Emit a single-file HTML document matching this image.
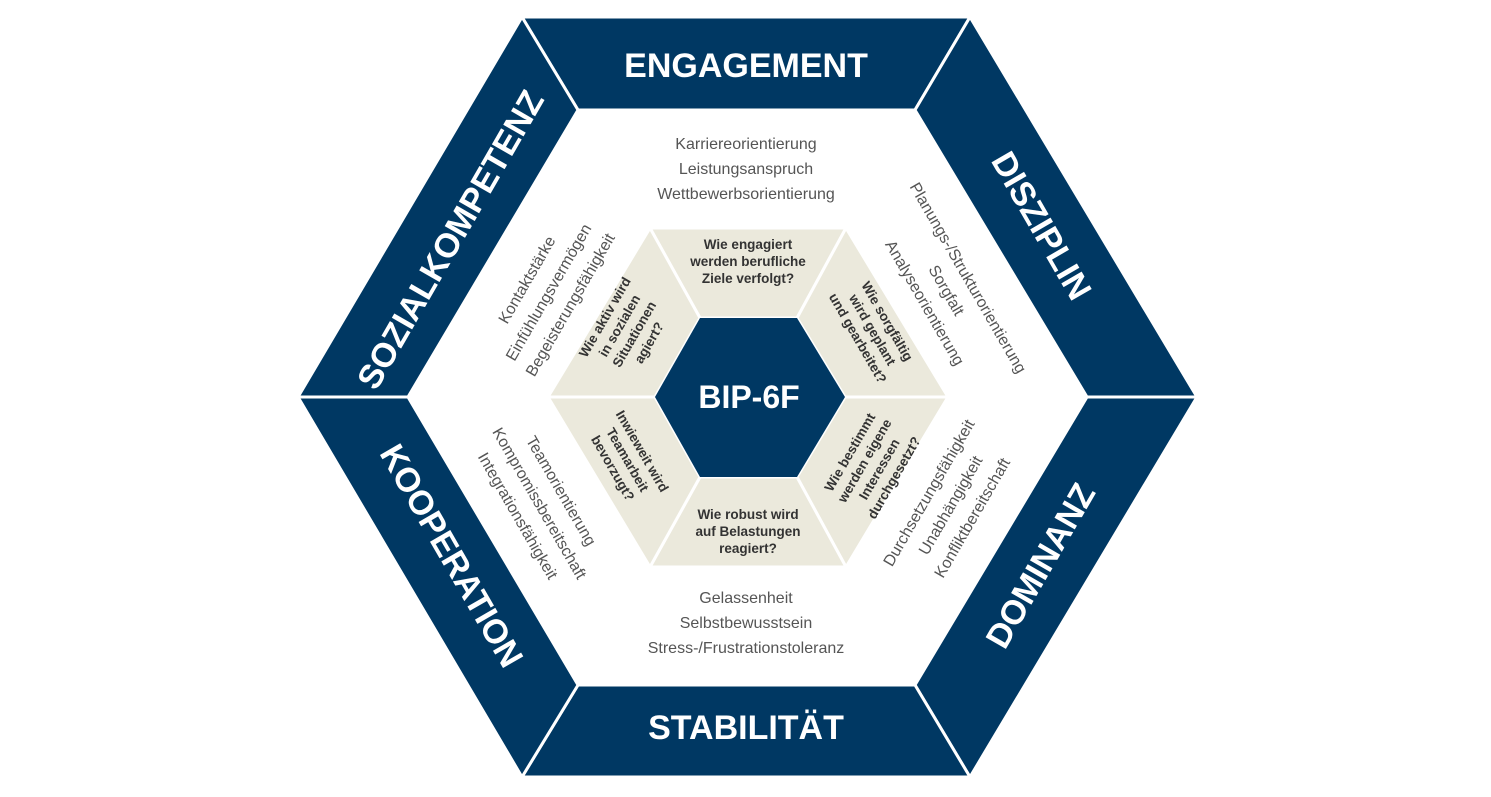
<!DOCTYPE html>
<html><head><meta charset="utf-8"><style>
html,body{margin:0;padding:0;background:#fff;}
svg{display:block;}
.h{font-family:"Liberation Sans",sans-serif;font-weight:bold;font-size:34px;fill:#fff;text-anchor:middle;dominant-baseline:central;}
.s{font-family:"Liberation Sans",sans-serif;font-size:16px;fill:#555;text-anchor:middle;}
.q{font-family:"Liberation Sans",sans-serif;font-weight:bold;font-size:13.5px;fill:#333;text-anchor:middle;}
</style></head><body>
<svg width="1491" height="797" viewBox="0 0 1491 797">
<!-- outer bands -->
<g fill="#003863" stroke="#fff" stroke-width="3">
<polygon points="522,17 970,17 915,110 578,110"/>
<polygon points="970,17 1197,397 1087,397 915,110"/>
<polygon points="1197,397 970,777 915,685 1087,397"/>
<polygon points="970,777 522,777 578,685 915,685"/>
<polygon points="522,777 298,397 408,397 578,685"/>
<polygon points="298,397 522,17 578,110 408,397"/>
</g>
<!-- beige -->
<g fill="#ebe9dc" stroke="#fff" stroke-width="3">
<polygon points="650,228 846,228 797,318 700,318"/>
<polygon points="846,228 948,397 845,397 797,318"/>
<polygon points="948,397 846,567 797,477 845,397"/>
<polygon points="846,567 650,567 700,477 797,477"/>
<polygon points="650,567 548,397 655,397 700,477"/>
<polygon points="548,397 650,228 700,318 655,397"/>
</g>
<polygon points="700,318 797,318 845,397 797,477 700,477 655,397" fill="#003863"/>
<text x="749" y="397" class="h" style="font-size:32px">BIP-6F</text>

<text x="746" y="66" class="h">ENGAGEMENT</text>
<text x="746" y="728" class="h">STABILITÄT</text>
<text class="h" transform="translate(451,240) rotate(-60)">SOZIALKOMPETENZ</text>
<text class="h" transform="translate(1041,226) rotate(60)">DISZIPLIN</text>
<text class="h" transform="translate(451,556) rotate(60)">KOOPERATION</text>
<text class="h" transform="translate(1041,566) rotate(-60)">DOMINANZ</text>

<g class="s">
<text x="746" y="149" class="s">Karriereorientierung</text>
<text x="746" y="174" class="s">Leistungsanspruch</text>
<text x="746" y="199" class="s">Wettbewerbsorientierung</text>
<text x="746" y="603" class="s">Gelassenheit</text>
<text x="746" y="628" class="s">Selbstbewusstsein</text>
<text x="746" y="653" class="s">Stress-/Frustrationstoleranz</text>
</g>
<g class="s" transform="translate(548,292) rotate(-60)">
<text y="-19" class="s">Kontaktstärke</text><text y="6" class="s">Einfühlungsvermögen</text><text y="31" class="s">Begeisterungsfähigkeit</text></g>
<g transform="translate(947,290) rotate(60)">
<text y="-19" class="s">Planungs-/Strukturorientierung</text><text y="6" class="s">Sorgfalt</text><text y="31" class="s">Analyseorientierung</text></g>
<g transform="translate(540,503) rotate(60)">
<text y="-19" class="s">Teamorientierung</text><text y="6" class="s">Kompromissbereitschaft</text><text y="31" class="s">Integrationsfähigkeit</text></g>
<g transform="translate(950,505) rotate(-60)">
<text y="-19" class="s">Durchsetzungsfähigkeit</text><text y="6" class="s">Unabhängigkeit</text><text y="31" class="s">Konfliktbereitschaft</text></g>

<g transform="translate(748,262)"><text y="-13" class="q">Wie engagiert</text><text y="4" class="q">werden berufliche</text><text y="21" class="q">Ziele verfolgt?</text></g>
<g transform="translate(748,532)"><text y="-13" class="q">Wie robust wird</text><text y="4" class="q">auf Belastungen</text><text y="21" class="q">reagiert?</text></g>
<g transform="translate(627,330) rotate(-60)"><text y="-21" class="q">Wie aktiv wird</text><text y="-4" class="q">in sozialen</text><text y="13" class="q">Situationen</text><text y="30" class="q">agiert?</text></g>
<g transform="translate(872,330) rotate(60)"><text y="-13" class="q">Wie sorgfältig</text><text y="4" class="q">wird geplant</text><text y="21" class="q">und gearbeitet?</text></g>
<g transform="translate(627,460) rotate(60)"><text y="-13" class="q">Inwieweit wird</text><text y="4" class="q">Teamarbeit</text><text y="21" class="q">bevorzugt?</text></g>
<g transform="translate(872,465) rotate(-60)"><text y="-21" class="q">Wie bestimmt</text><text y="-4" class="q">werden eigene</text><text y="13" class="q">Interessen</text><text y="30" class="q">durchgesetzt?</text></g>
</svg>
</body></html>
